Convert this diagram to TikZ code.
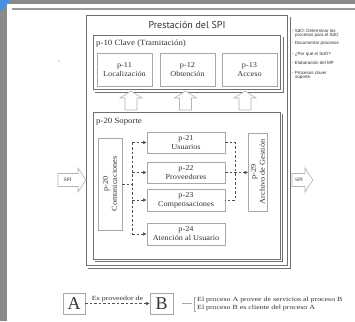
\documentclass[tikz,border=0pt]{standalone}
\usepackage{fontspec}
\setmainfont{Liberation Serif}
\newfontfamily\bxf[FakeStretch=1.1]{Liberation Serif}
\newfontfamily\lgf[FakeStretch=1.25]{Liberation Serif}
\newfontfamily\ttlf{PT Sans}
\newfontfamily\ntsf{Liberation Sans}
\usetikzlibrary{arrows.meta,calc}
\definecolor{framec}{HTML}{8A8A8A}
\definecolor{topln}{HTML}{9A9A9A}
\definecolor{bluec}{HTML}{4A90E2}
\definecolor{dkc}{HTML}{707070}
\definecolor{bxc}{HTML}{A8A8A8}
\definecolor{hlc}{HTML}{B4B4B4}
\definecolor{dsc}{HTML}{505050}
\definecolor{txc}{HTML}{333333}
\begin{document}
\begin{tikzpicture}[x=1pt,y=-1pt,
  box/.style={draw=bxc, line width=0.6pt, fill=white, inner sep=1pt, align=center,
    font=\bxf\fontsize{7.5}{9}\selectfont, text=txc},
  bigbox/.style={draw=dkc, line width=0.7pt},
  shadowln/.style={draw=dkc, line width=0.7pt},
  ttl/.style={font=\bxf\fontsize{8}{9}\selectfont, text=txc, anchor=west, inner sep=0pt},
  dashcon/.style={draw=dsc, line width=0.6pt, dash pattern=on 2.5pt off 2pt},
  arr/.style={-{Latex[length=3.5pt,width=3.5pt]}},
  hollow/.style={draw=hlc, line width=0.6pt, fill=white},
  note/.style={font=\ntsf\fontsize{4.5}{4.5}\selectfont, text=txc, anchor=west, inner sep=0pt},
  lgtext/.style={font=\lgf\fontsize{6.3}{8}\selectfont, text=txc, inner sep=0pt}
]
\useasboundingbox (0,0) rectangle (355,321);
\clip (0,0) rectangle (355,321);
\fill[white] (0,0) rectangle (355,321);
% frame
\fill[framec] (0,0) rectangle (7,321);
\fill[framec] (0,0) rectangle (355,4);
\fill[bluec] (0,0) -- (11,0) -- (0,12) -- cycle;
\draw[topln, line width=1.6pt] (12,9) -- (355,9);
\fill[gray] (59,61) circle (0.6);

% outer box
\node[bigbox, minimum width=201, minimum height=250] (outer) at (186.5,140) {};
\draw[shadowln] ($(outer.north east)+(2.5,2.5)$) -- ($(outer.south east)+(2.5,2.5)$) -- ($(outer.south west)+(2.5,2.5)$);
\node[font=\ttlf\fontsize{10}{12}\selectfont, text=txc, inner sep=0pt] (title) at (187,25) {Prestación del SPI};

% p-10
\node[bigbox, fill=white, minimum width=187, minimum height=54] (p10) at (186.5,62) {};
\draw[shadowln] ($(p10.north east)+(2.5,2.5)$) -- ($(p10.south east)+(2.5,2.5)$) -- ($(p10.south west)+(2.5,2.5)$);
\node[ttl] (p10t) at (96,44) {p-10 Clave (Tramitación)};
\node[box, minimum width=55, minimum height=33] (p11) at (124.5,69.5) {p-11\\Localización};
\node[box, minimum width=55, minimum height=33] (p12) at (187.5,69.5) {p-12\\Obtención};
\node[box, minimum width=55, minimum height=33] (p13) at (249.5,69.5) {p-13\\Acceso};

% up arrows
\foreach \cx in {131,185.5,245}{
  \draw[hollow] (\cx-6,110) -- (\cx-6,98) -- (\cx-11,98) -- (\cx,91) -- (\cx+11,98) -- (\cx+6,98) -- (\cx+6,110) -- cycle;
}

% p-20
\node[bigbox, fill=white, minimum width=187, minimum height=147] (p20) at (186.5,185.5) {};
\draw[shadowln] ($(p20.north east)+(2,2)$) -- ($(p20.south east)+(2,2)$) -- ($(p20.south west)+(2,2)$);
\node[ttl] (p20t) at (96,122) {p-20 Soporte};

\node[box, minimum width=92, minimum height=24, rotate=90] (p20c) at (110,184) {p-20\\Comunicaciones};
\node[box, minimum width=78, minimum height=21] (p21) at (186,142.5) {p-21\\Usuarios};
\node[box, minimum width=78, minimum height=21] (p22) at (186,172.5) {p-22\\Proveedores};
\node[box, minimum width=78, minimum height=22] (p23) at (186,200) {p-23\\Compensaciones};
\node[box, minimum width=78, minimum height=22] (p24) at (186,234) {p-24\\Atención al Usuario};
\node[box, minimum width=78, minimum height=19, rotate=90] (p29) at (258,172) {p-29\\Archivo de Gestión};

% dashed connectors
\coordinate (lt) at (132,142.5);
\coordinate (lb) at (132,234);
\coordinate (rt) at (235,142.5);
\draw[dashcon] (p20c.south) -- (p20c.south -| lt);
\draw[dashcon] (lt) -- (lb);
\draw[dashcon, arr] (lt) -- (p21.west);
\draw[dashcon, arr] (lt |- p22.west) -- (p22.west);
\draw[dashcon, arr] (lt |- p23.west) -- (p23.west);
\draw[dashcon, arr] (lb) -- (p24.west);
\draw[dashcon] (p21.east) -- (rt) -- (rt |- p23.east) -- (p23.east);
\draw[dashcon, arr] (p22.east) -- (p22.east -| p29.north);

% SPI arrows
\draw[hollow] (58,173.5) -- (78,173.5) -- (78,168) -- (86,180) -- (78,192) -- (78,186.5) -- (58,186.5) -- cycle;
\node[font=\bxf\fontsize{5}{6}\selectfont, text=txc, inner sep=0pt] (spiin) at (67.5,180) {SPI};
\draw[hollow] (292,173.5) -- (305,173.5) -- (305,168) -- (313,180) -- (305,192) -- (305,186.5) -- (292,186.5) -- cycle;
\node[font=\bxf\fontsize{5}{6}\selectfont, text=txc, inner sep=0pt] (spiout) at (299,180) {SPI};

% notes
\node[note] (n1) at (292,31) {- SdO: Determinar los};
\node[note] (n1b) at (295,35.5) {procesos para el SdO};
\node[note] (n2) at (292,43) {- Documentar procesos};
\node[note] (n3) at (292,54) {- ¿Por qué el SdO?};
\node[note] (n4) at (292,63) {- Elaboración del MP};
\node[note] (n5) at (292,73) {- Procesos clave/};
\node[note] (n5b) at (295,77.5) {soporte.};

% legend
\node[draw=bxc, line width=0.6pt, minimum width=22, minimum height=21, inner sep=0pt,
  font=\fontsize{18}{18}\selectfont, text=txc] (la) at (74,303.5) {A};
\node[draw=bxc, line width=0.6pt, minimum width=23, minimum height=21, inner sep=0pt,
  font=\fontsize{18}{18}\selectfont, text=txc] (lb2) at (161.5,303.5) {B};
\draw[dashcon, arr] (la.east) -- node[lgtext, above=1.5pt] (lgl) {Es proveedor de} (lb2.west);
\coordinate (ls) at (182,303.5);
\coordinate (le) at (192,303.5);
\draw[bxc, line width=0.6pt] (ls) -- (le);
\draw[bxc, line width=0.6pt] (195.5,297) -- (194,297) -- (194,311) -- (195.5,311);
\node[lgtext, anchor=west] (lt1) at (197,300) {El proceso A provee de servicios al proceso B};
\node[lgtext, anchor=west] (lt2) at (197,308) {El proceso B es cliente del proceso A};
\end{tikzpicture}
\end{document}
